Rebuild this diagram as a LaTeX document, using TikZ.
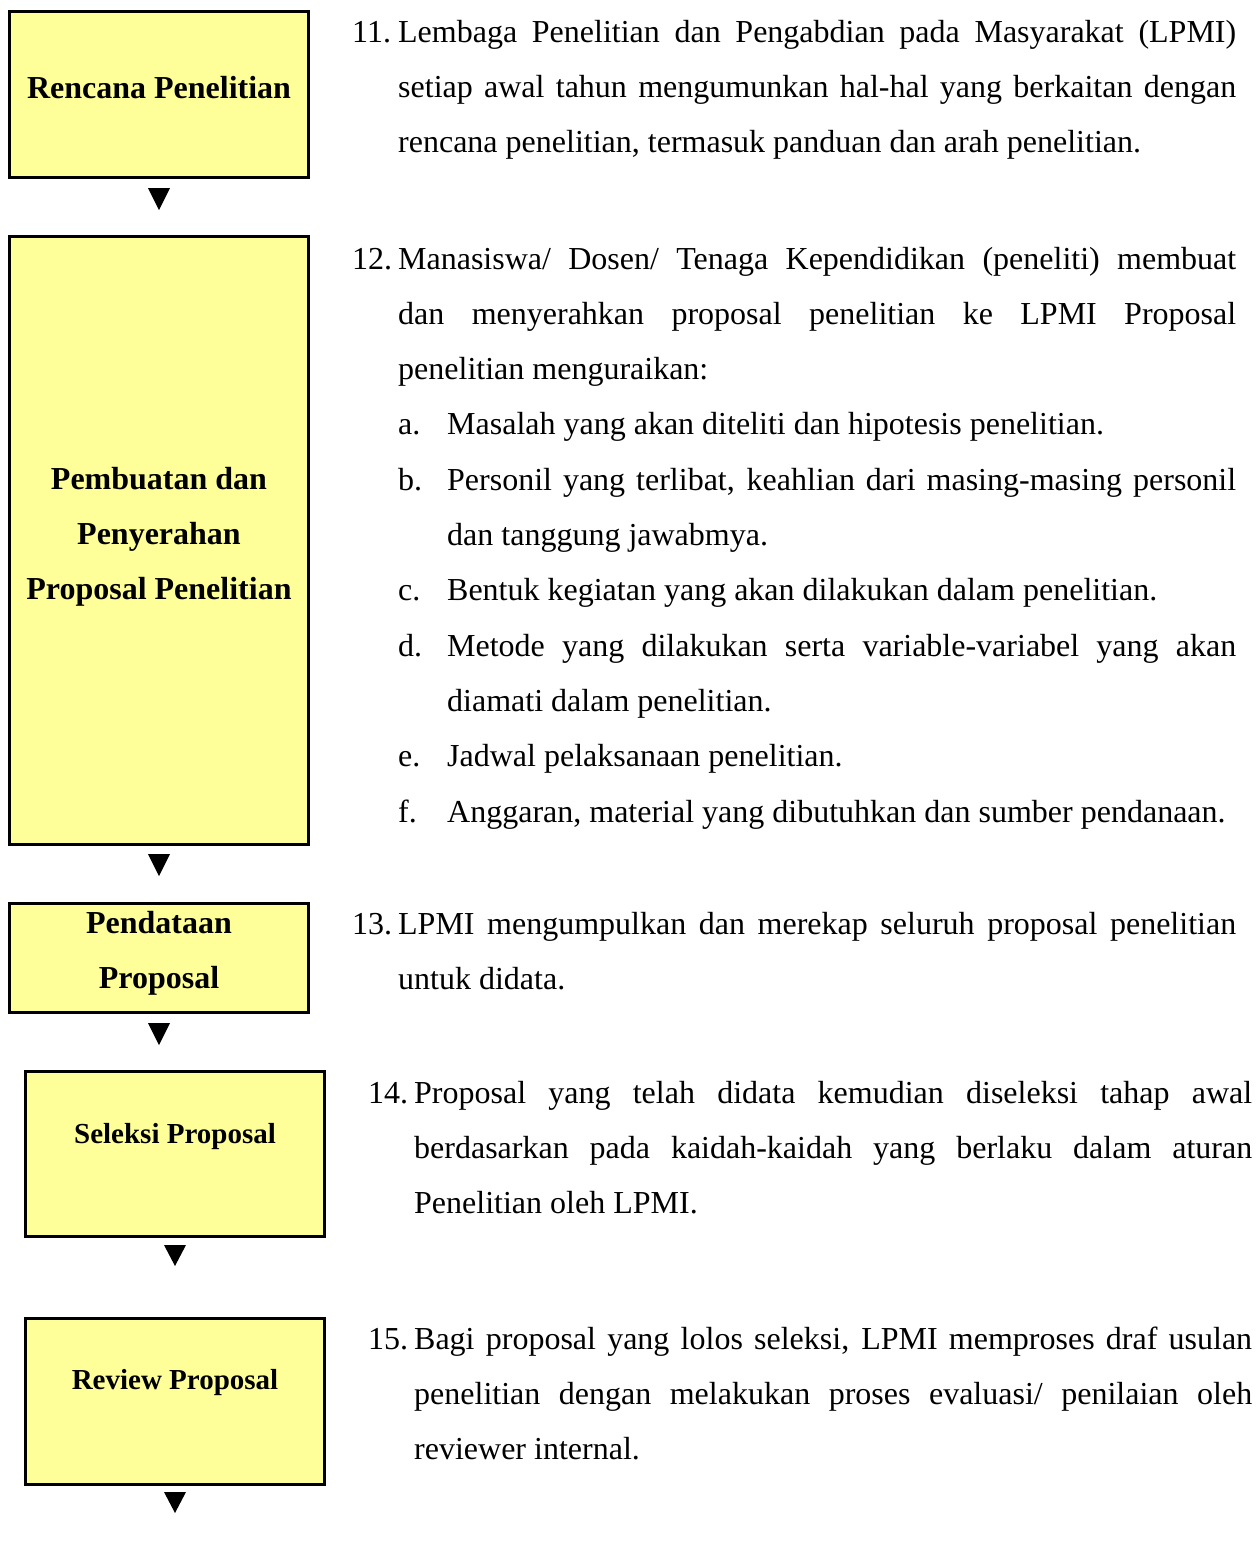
\documentclass[tikz,border=0pt]{standalone}
\usepackage{fontspec}
\setmainfont{Liberation Serif}
\definecolor{boxfill}{RGB}{255,255,153}
\newcommand{\NumPar}[2]{{\hangindent=46pt\hangafter=1\noindent\makebox[46pt][l]{#1}#2\par}}
\newcommand{\SubPar}[2]{{\leftskip=46pt\hangindent=49pt\hangafter=1\noindent\makebox[49pt][l]{#1}#2\par}}
\newcommand{\ItemBox}[1]{\parbox[t]{884pt}{\fontsize{32}{55.3}\selectfont\tolerance=10000\pretolerance=-1\hyphenpenalty=10000\exhyphenpenalty=10000\parindent=0pt\parskip=0pt #1}}
\begin{document}
\begin{tikzpicture}[x=1pt,y=-1pt,
  flowbox/.style={draw=black, line width=3pt, fill=boxfill, minimum width=299pt, inner sep=0pt, outer sep=0pt, anchor=north west},
  bigtxt/.style={font=\fontsize{32}{38}\selectfont\bfseries, anchor=base, inner sep=0pt},
  smalltxt/.style={font=\fontsize{29}{35}\selectfont\bfseries, anchor=base, inner sep=0pt},
  itemtxt/.style={anchor=base west, inner sep=0pt},
  tri/.style={fill=black}]
\useasboundingbox (0,0) rectangle (1256,1559);
\fill[white] (0,0) rectangle (1256,1559);

% boxes
\node[flowbox, minimum height=166pt] (b1) at (9.5,11.5) {};
\node[flowbox, minimum height=608pt] (b2) at (9.5,236.5) {};
\node[flowbox, minimum height=109pt] (b3) at (9.5,903.5) {};
\node[flowbox, minimum height=165pt] (b4) at (25.5,1071.5) {};
\node[flowbox, minimum height=166pt] (b5) at (25.5,1318.5) {};

% box labels
\node[bigtxt] (t1) at (159,98.5) {Rencana Penelitian};
\node[bigtxt] (t2a) at (159,489.5) {Pembuatan dan};
\node[bigtxt] (t2b) at (159,544.5) {Penyerahan};
\node[bigtxt] (t2c) at (159,599.5) {Proposal Penelitian};
\node[bigtxt] (t3a) at (159,933.5) {Pendataan};
\node[bigtxt] (t3b) at (159,988.5) {Proposal};
\node[smalltxt] (t4) at (175,1143.5) {Seleksi Proposal};
\node[smalltxt] (t5) at (175,1389.5) {Review Proposal};

% triangles
\fill[tri] (148,188) -- (170,188) -- (159,210) -- cycle;
\fill[tri] (148,854) -- (170,854) -- (159,876) -- cycle;
\fill[tri] (148,1023) -- (170,1023) -- (159,1045) -- cycle;
\fill[tri] (164,1245) -- (186,1245) -- (175,1266) -- cycle;
\fill[tri] (164,1492) -- (186,1492) -- (175,1513) -- cycle;

% items
\node[itemtxt] (i11) at (352,42) {\ItemBox{%
\NumPar{11.}{Lembaga Penelitian dan Pengabdian pada Masyarakat (LPMI)\linebreak setiap awal tahun mengumunkan hal-hal yang berkaitan dengan\linebreak rencana penelitian, termasuk panduan dan arah penelitian.}}};

\node[itemtxt] (i12) at (352,269) {\ItemBox{%
\NumPar{12.}{Manasiswa/ Dosen/ Tenaga Kependidikan (peneliti) membuat\linebreak dan menyerahkan proposal penelitian ke LPMI Proposal\linebreak penelitian menguraikan:}%
\SubPar{a.}{Masalah yang akan diteliti dan hipotesis penelitian.}%
\SubPar{b.}{Personil yang terlibat, keahlian dari masing-masing personil\linebreak dan tanggung jawabmya.}%
\SubPar{c.}{Bentuk kegiatan yang akan dilakukan dalam penelitian.}%
\SubPar{d.}{Metode yang dilakukan serta variable-variabel yang akan\linebreak diamati dalam penelitian.}%
\SubPar{e.}{Jadwal pelaksanaan penelitian.}%
\SubPar{f.}{Anggaran, material yang dibutuhkan dan sumber pendanaan.}}};

\node[itemtxt] (i13) at (352,934) {\ItemBox{%
\NumPar{13.}{LPMI mengumpulkan dan merekap seluruh proposal penelitian\linebreak untuk didata.}}};

\node[itemtxt] (i14) at (368,1103) {\ItemBox{%
\NumPar{14.}{Proposal yang telah didata kemudian diseleksi tahap awal\linebreak berdasarkan pada kaidah-kaidah yang berlaku dalam aturan\linebreak Penelitian oleh LPMI.}}};

\node[itemtxt] (i15) at (368,1349) {\ItemBox{%
\NumPar{15.}{Bagi proposal yang lolos seleksi, LPMI memproses draf usulan\linebreak penelitian dengan melakukan proses evaluasi/ penilaian oleh\linebreak reviewer internal.}}};
\end{tikzpicture}
\end{document}
